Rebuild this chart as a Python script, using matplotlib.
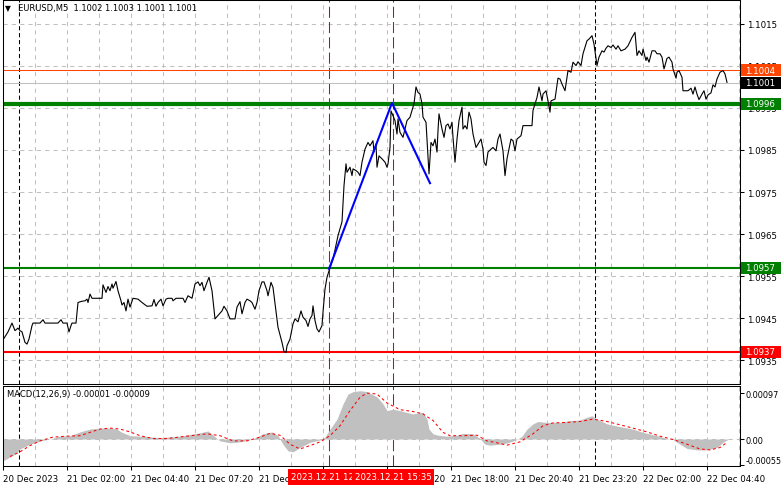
import matplotlib
matplotlib.use('Agg')
import matplotlib.pyplot as plt
import matplotlib.transforms as mtransforms
from matplotlib.patches import Rectangle

plt.rcParams.update({
    'font.family': 'DejaVu Sans',
    'font.size': 6,
    'lines.scale_dashes': False,
    'axes.linewidth': 0.75,
})

# ── Data (bar = count of 5-min bars since 21 Dec 00:00) ──────────────────────
bar = [-8, -5.5, -3.5, -2, -0.5, 0.5, 1.5, 3, 4, 5, 6.5, 7, 10.5, 12, 13, 19.5, 21, 22, 24,
       25, 26, 26.5, 28.5, 29.5, 31.5, 33, 34, 34.5, 35.5, 36.5, 41.5, 42, 43.5, 44.5, 45.5,
       46.5, 47, 48.5, 49.5, 51, 51.5, 52.5, 53.5, 54.5, 55.5, 57, 59.5, 61.5, 64, 66.5, 67.5,
       68.5, 69.5, 71, 72, 73.5, 74.5, 76.5, 77, 78.5, 82, 83, 84.5, 86.5, 88, 89.5, 90.5, 91.5,
       92.5, 94, 95, 96.5, 98, 99.5, 101.5, 102.5, 104, 105.5, 108, 109, 110.5, 111.5, 113, 114,
       115.5, 116.5, 118, 119, 120, 121.5, 122.5, 124, 124.5, 126, 127, 129, 129.5, 131.5, 132.5,
       133.5, 134, 135.5, 137, 138, 139.5, 141, 142, 143.5, 144.5, 145.5, 146.5, 147, 148, 149,
       150, 151.5, 152, 153, 154, 155, 157, 159.5, 161.5, 162.5, 163.5, 164, 165.5, 166.5, 167,
       168.5, 169.5, 170.5, 171.5, 173, 174.5, 175.5, 177, 177.5, 178.5, 179, 180, 181.5, 183,
       184, 184.5, 185.5, 186, 188, 189, 189.5, 190.5, 192, 193, 194, 195.5, 196.5, 197.5, 198.5,
       199.5, 200.5, 201.5, 202, 203.5, 204, 205, 206, 207, 208, 209, 209.5, 210, 211.5, 212.5,
       213.5, 214.5, 215.5, 216.5, 217, 218, 219, 220, 221.5, 222, 223, 224, 225, 226, 227, 228.5,
       229.5, 231, 232, 232.5, 233.5, 234.5, 236, 237, 238.5, 239.5, 240.5, 242, 243, 244, 246,
       247, 248, 249, 251, 252, 256.5, 257, 259, 260, 261.5, 262, 263.5, 264.5, 265.5, 266, 268,
       269.5, 270.5, 271.5, 273, 274.5, 276, 277, 278.5, 279.5, 281, 282, 284, 285, 286.5, 287.5,
       289, 290, 291.5, 292.5, 293.5, 294.5, 296, 297, 298.5, 299.5, 301, 303, 304.5, 306.5, 308,
       309, 310, 311.5, 312, 313.5, 314, 315, 316.5, 318, 319, 320.5, 321.5, 322.5, 324, 325,
       326.5, 327, 328.5, 329, 330, 331.5, 332, 334.5, 336, 337, 338, 339, 340, 341.5, 342.5,
       343.5, 344.5, 346, 347, 348, 349, 350.5, 352, 353, 354]
price = [1.09398, 1.09417, 1.09438, 1.09420, 1.09426, 1.09420, 1.09417, 1.09392, 1.09388,
         1.09400, 1.09432, 1.09438, 1.09438, 1.09446, 1.09438, 1.09438, 1.09446, 1.09438,
         1.09438, 1.09417, 1.09432, 1.09438, 1.09438, 1.09487, 1.09490, 1.09491, 1.09495,
         1.09487, 1.09507, 1.09497, 1.09497, 1.09529, 1.09511, 1.09525, 1.09515, 1.09531,
         1.09521, 1.09537, 1.09515, 1.09491, 1.09481, 1.09487, 1.09467, 1.09495, 1.09476,
         1.09497, 1.09495, 1.09487, 1.09478, 1.09479, 1.09494, 1.09478, 1.09487, 1.09495,
         1.09479, 1.09495, 1.09497, 1.09497, 1.09491, 1.09497, 1.09497, 1.09487, 1.09503,
         1.09497, 1.09531, 1.09536, 1.09527, 1.09535, 1.09515, 1.09535, 1.09547, 1.09515,
         1.09448, 1.09456, 1.09467, 1.09478, 1.09467, 1.09448, 1.09448, 1.09476, 1.09489,
         1.09460, 1.09487, 1.09495, 1.09491, 1.09487, 1.09471, 1.09487, 1.09515, 1.09536,
         1.09536, 1.09515, 1.09503, 1.09535, 1.09523, 1.09448, 1.09428, 1.09392, 1.09370,
         1.09368, 1.09384, 1.09400, 1.09436, 1.09448, 1.09441, 1.09467, 1.09452, 1.09444,
         1.09430, 1.09448, 1.09456, 1.09479, 1.09444, 1.09424, 1.09417, 1.09432, 1.09464,
         1.09519, 1.09547, 1.09562, 1.09590, 1.09646, 1.09679, 1.09765, 1.09817, 1.09797,
         1.09809, 1.09789, 1.09805, 1.09801, 1.09797, 1.09789, 1.09821, 1.09852, 1.09868,
         1.09860, 1.09872, 1.09845, 1.09864, 1.09809, 1.09836, 1.09829, 1.09821, 1.09809,
         1.09817, 1.09856, 1.09943, 1.09920, 1.09888, 1.09924, 1.09892, 1.09880, 1.09900,
         1.09920, 1.09928, 1.09944, 1.09960, 1.10000, 1.09987, 1.09983, 1.09960, 1.09928,
         1.09916, 1.09876, 1.09793, 1.09868, 1.09860, 1.09876, 1.09845, 1.09896, 1.09936,
         1.09900, 1.09880, 1.09908, 1.09912, 1.09900, 1.09916, 1.09880, 1.09821, 1.09876,
         1.09920, 1.09952, 1.09900, 1.09908, 1.09900, 1.09940, 1.09924, 1.09888, 1.09856,
         1.09864, 1.09876, 1.09852, 1.09821, 1.09813, 1.09845, 1.09852, 1.09856, 1.09848,
         1.09876, 1.09888, 1.09848, 1.09789, 1.09829, 1.09876, 1.09872, 1.09848, 1.09876,
         1.09884, 1.09908, 1.09908, 1.09944, 1.09975, 1.10000, 1.09967, 1.09983, 1.09991,
         1.09967, 1.09940, 1.09967, 1.09971, 1.10021, 1.10019, 1.10007, 1.09991, 1.10039,
         1.10035, 1.10059, 1.10051, 1.10060, 1.10051, 1.10079, 1.10110, 1.10114, 1.10122,
         1.10102, 1.10051, 1.10071, 1.10086, 1.10083, 1.10092, 1.10098, 1.10094, 1.10100,
         1.10090, 1.10098, 1.10086, 1.10090, 1.10098, 1.10118, 1.10130, 1.10075, 1.10086,
         1.10075, 1.10090, 1.10063, 1.10071, 1.10059, 1.10086, 1.10086, 1.10079, 1.10079,
         1.10071, 1.10043, 1.10068, 1.10071, 1.10059, 1.10043, 1.10021, 1.10035, 1.10039,
         1.10023, 1.09991, 1.09991, 1.09997, 1.09983, 1.10000, 1.09983, 1.09970, 1.09983,
         1.09991, 1.09971, 1.09981, 1.09986, 1.10005, 1.10000, 1.10019, 1.10035, 1.10039,
         1.10031, 1.10011]

# blue swing lines
blue_bar = [155, 186.5, 205.5]
blue_price = [1.09567, 1.09962, 1.09771]

# MACD histogram and signal
hist_bar = [-8, -4.5, -2, 0.5, 5.5, 10.5, 15.5, 20.5, 25.5, 30.5, 35.5, 40.5, 45.5, 49, 51,
            55.5, 60.5, 70.5, 80.5, 90.5, 94.5, 97, 100.5, 105.5, 110.5, 117, 122, 126.5,
            129.5, 132, 134.5, 137, 140.5, 145.5, 150.5, 153, 155.5, 159, 162, 164.5, 167,
            170.5, 174, 179, 182, 184, 187, 190.5, 194, 197, 200.5, 202, 204, 205, 207, 209.5,
            214, 219, 222, 227, 230.5, 233, 235.5, 240.5, 244.5, 249, 251.5, 254, 257, 259.5,
            264, 270.5, 275.5, 280.5, 284, 286.5, 289, 294, 300.5, 307, 312, 319, 324, 327,
            330.5, 334, 339, 344, 349, 352, 354.5]
hist_val = [-0.00046, -0.00038, -0.00032, -0.00021, -0.00011, -0.00004, 0.0, 0.00006,
            0.00007, 0.00015, 0.00021, 0.00023, 0.00023, 0.00021, 0.00015, 0.00007, 0.00006,
            0.00003, 0.00006, 0.00013, 0.00017, 0.00008, -0.00004, -0.00008, -0.00006, 0.0,
            0.00011, 0.00015, 0.00007, -0.00011, -0.00025, -0.00027, -0.00018, -0.00007,
            -0.00002, 0.00004, 0.00021, 0.00042, 0.00074, 0.00095, 0.00100, 0.00102, 0.00100,
            0.00089, 0.00074, 0.00060, 0.00063, 0.00060, 0.00056, 0.00053, 0.00056, 0.00056,
            0.00042, 0.00021, 0.00011, 0.00008, 0.00006, 0.00008, 0.00012, 0.00011, 0.00001,
            -0.00011, -0.00013, -0.00011, -0.00008, -0.00001, 0.00006, 0.00021, 0.00032,
            0.00037, 0.00035, 0.00035, 0.00039, 0.00040, 0.00046, 0.00049, 0.00042, 0.00032,
            0.00026, 0.00021, 0.00014, 0.00007, 0.00001, -0.00001, -0.00011, -0.00020,
            -0.00023, -0.00023, -0.00018, -0.00007, -0.00001]
sig_bar = [-4.5, 0.5, 5.5, 10.5, 17, 24, 30.5, 35.5, 40.5, 45.5, 50.5, 55.5, 60.5, 67, 74, 84,
           94, 100.5, 107, 114, 120.5, 125.5, 130.5, 135.5, 140.5, 145.5, 150.5, 155.5, 160.5,
           165.5, 170.5, 174, 179, 184, 190.5, 197, 202, 207, 212, 215.5, 222, 229, 234, 239,
           244, 250.5, 257, 262, 267, 274, 280.5, 287, 294, 300.5, 307, 314, 320.5, 327, 334,
           340.5, 345.5, 350.5, 354]
sig_val = [-0.00037, -0.00027, -0.00014, -0.00004, 0.00004, 0.00006, 0.00007, 0.00014,
           0.00021, 0.00023, 0.00021, 0.00015, 0.00007, 0.00001, 0.00001, 0.00006, 0.00011,
           0.00007, -0.00004, -0.00004, 0.00004, 0.00012, 0.00008, -0.00011, -0.00021,
           -0.00014, -0.00006, 0.00007, 0.00028, 0.00060, 0.00088, 0.00097, 0.00095, 0.00076,
           0.00062, 0.00058, 0.00053, 0.00039, 0.00014, 0.00007, 0.00007, 0.00008, -0.00004,
           -0.00008, -0.00013, -0.00006, 0.00011, 0.00028, 0.00034, 0.00035, 0.00037, 0.00042,
           0.00037, 0.00030, 0.00023, 0.00015, 0.00006, -0.00001, -0.00011, -0.00021, -0.00023,
           -0.00018, -0.00007]

price_ticks = [1.0935, 1.0945, 1.0955, 1.0965, 1.0975, 1.0985, 1.0995, 1.1005, 1.1015]
time_tick_bar = [-8, 24, 56, 88, 120, 152, 184, 216, 248, 280, 312, 344]
time_tick_lab = ['20 Dec 2023', '21 Dec 02:00', '21 Dec 04:40', '21 Dec 07:20', '21 Dec 10:00',
                 '21 Dec 12:40', '21 Dec 15:20', '21 Dec 18:00', '21 Dec 20:40', '21 Dec 23:20',
                 '22 Dec 02:00', '22 Dec 04:40']
day_sep_bar = [0, 288]
marker_bar = [155, 187]
marker_lab = ['2023.12.21 12:55', '2023.12.21 15:35']

# (price, line colour, line width, label box colour)
levels = [
    (1.1004, '#FF4500', 0.75, '#FF4500'),
    (1.1001, '#C0C0C0', 0.75, '#000000'),
    (1.0996, '#008000', 3.0, '#008000'),
    (1.0957, '#008000', 1.5, '#008000'),
    (1.0937, '#FF0000', 1.5, '#FF0000'),
]

GRID = '#C0C0C0'
W, H = 781, 489

fig = plt.figure(figsize=(W / 100, H / 100), dpi=100, facecolor='white')
ax1 = fig.add_axes([3 / W, (H - 385) / H, 737 / W, 384 / H])
ax2 = fig.add_axes([3 / W, (H - 467) / H, 737 / W, 80.5 / H])

x0, x1 = -8, 360.5

# ── main price panel ─────────────────────────────────────────────────────────
ax1.set_xlim(x0, x1)
ax1.set_ylim(1.09293, 1.10207)
ax1.yaxis.tick_right()
ax1.set_yticks(price_ticks)
ax1.set_yticklabels([f'{p:.4f}' for p in price_ticks])
ax1.tick_params(axis='y', length=3, width=0.75, pad=2, labelsize=6.2)
ax1.set_xticks([])
for p in price_ticks:
    ax1.axhline(p, color=GRID, lw=0.75, ls=(0, (3, 3)), zorder=0)
for g in range(-8, 361, 16):
    ax1.axvline(g, color=GRID, lw=0.75, ls=(0, (3, 3)), zorder=0)
    ax2.axvline(g, color=GRID, lw=0.75, ls=(0, (3, 3)), zorder=0)

for b in day_sep_bar:
    ax1.axvline(b, color='black', lw=0.75, ls=(0, (3, 2)), zorder=1)
    ax2.axvline(b, color='black', lw=0.75, ls=(0, (3, 2)), zorder=1)
for b in marker_bar:
    ax1.axvline(b, color='#E00000', lw=0.75, ls=(0, (8, 3)), zorder=1)
    ax2.axvline(b, color='#E00000', lw=0.75, ls=(0, (8, 3)), zorder=1)

for p, lc, lw, bc in levels:
    ax1.axhline(p, color=lc, lw=lw, zorder=2)

ax1.plot(bar, price, color='black', lw=0.8, zorder=3)
ax1.plot(blue_bar, blue_price, color='#0000FF', lw=1.5, zorder=4)

# price labels on the right scale
tr = mtransforms.blended_transform_factory(fig.transFigure, ax1.transData)
box_h = 12 / 42000
for p, lc, lw, bc in levels:
    ax1.add_patch(Rectangle((741 / W, p - box_h / 2), 40 / W, box_h, transform=tr,
                            facecolor=bc, edgecolor='none', clip_on=False, zorder=10))
    ax1.text(745 / W, p, f'{p:.4f}', transform=tr, color='white', fontsize=6.2,
             va='center', ha='left', clip_on=False, zorder=11)

fig.text(8 / W, 1 - 9 / H, '▼', fontsize=5.5, va='center', ha='center')
fig.text(18 / W, 1 - 9 / H, 'EURUSD,M5  1.1002 1.1003 1.1001 1.1001',
         fontsize=6, va='center', ha='left')

# ── MACD panel ───────────────────────────────────────────────────────────────
ax2.set_xlim(x0, x1)
ax2.set_ylim(-0.00057, 0.00113)
ax2.axhline(0, color=GRID, lw=0.75, ls=(0, (3, 3)), zorder=0)
ax2.fill_between(hist_bar, 0, hist_val, color='#C0C0C0', lw=0, zorder=2)
ax2.plot(sig_bar, sig_val, color='#FF0000', lw=0.75, ls=(0, (2, 2)), zorder=3)
ax2.yaxis.tick_right()
ax2.set_yticks([-0.00055, 0.0, 0.00097])
ax2.set_yticklabels(['-0.00055', '0.00', '0.00097'])
ax2.get_yticklabels()[0].set_va('bottom')
ax2.tick_params(axis='y', length=3, width=0.75, pad=1, labelsize=5.9)
ax2.set_xticks(time_tick_bar)
ax2.set_xticklabels(time_tick_lab, ha='left')
ax2.tick_params(axis='x', length=3, width=0.75, pad=3, labelsize=6.2)
ax2.text(4 / 737, 1 - 395 / H, 'MACD(12,26,9) -0.00001 -0.00009',
         transform=mtransforms.blended_transform_factory(ax2.transAxes, fig.transFigure),
         fontsize=6, va='center', ha='left')

btr = mtransforms.blended_transform_factory(ax2.transData, fig.transFigure)
for b, lab in zip(marker_bar, marker_lab):
    ax2.text(b, 1 - 478 / H, lab, transform=btr, color='white', fontsize=6.2,
             ha='center', va='center', clip_on=False, zorder=12,
             bbox=dict(boxstyle='square,pad=0.35', facecolor='#FF0000', edgecolor='none'))

fig.savefig('out.png', dpi=100, facecolor='white')
